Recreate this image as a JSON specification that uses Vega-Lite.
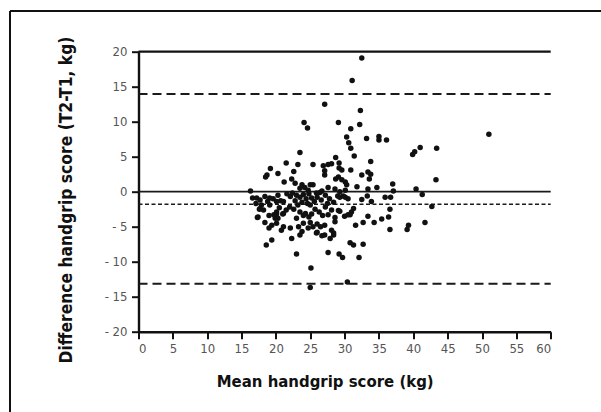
{
  "$schema": "https://vega.github.io/schema/vega-lite/v6.json",
  "width": 412.2,
  "height": 280,
  "autosize": {"type": "none"},
  "padding": {"left": 138.5, "top": 51.7, "right": 50.3, "bottom": 80.3},
  "background": "white",
  "config": {"view": {"stroke": null}, "font": "'Liberation Sans Narrow', 'DejaVu Sans Condensed', Roboto, sans-serif"},
  "datasets": {
    "pts": [
      {"x":32.5,"y":19.1},{"x":31.1,"y":15.9},{"x":27.1,"y":12.5},{"x":24.1,"y":9.9},{"x":24.6,"y":9.1},{"x":29.1,"y":9.9},{"x":32.3,"y":11.6},{"x":32.2,"y":9.6},{"x":30.9,"y":9.0},{"x":30.3,"y":7.8},{"x":30.6,"y":7.0},{"x":30.9,"y":6.2},{"x":31.4,"y":5.1},{"x":33.2,"y":7.6},{"x":35.0,"y":7.9},{"x":35.0,"y":7.4},{"x":36.1,"y":7.4},{"x":51.0,"y":8.2},{"x":39.9,"y":5.3},{"x":40.2,"y":5.7},{"x":41.0,"y":6.3},{"x":43.4,"y":6.2},{"x":23.5,"y":5.6},{"x":28.7,"y":4.9},{"x":25.4,"y":3.9},{"x":26.9,"y":3.7},{"x":27.6,"y":3.9},{"x":28.1,"y":4.0},{"x":29.2,"y":4.1},{"x":29.2,"y":3.4},{"x":29.6,"y":3.1},{"x":27.1,"y":3.0},{"x":27.1,"y":2.4},{"x":30.9,"y":3.1},{"x":33.8,"y":4.3},{"x":32.5,"y":2.4},{"x":33.4,"y":2.8},{"x":33.8,"y":2.5},{"x":33.6,"y":1.8},{"x":28.7,"y":1.8},{"x":29.6,"y":1.7},{"x":30.1,"y":1.4},{"x":31.8,"y":0.7},{"x":33.4,"y":0.4},{"x":34.7,"y":0.6},{"x":37.0,"y":1.1},{"x":37.1,"y":0.1},{"x":40.4,"y":0.4},{"x":43.3,"y":1.7},{"x":41.3,"y":-0.4},{"x":35.9,"y":-0.8},{"x":36.7,"y":-0.8},
      {"x":21.5,"y":4.1},{"x":23.2,"y":3.9},{"x":19.2,"y":3.3},{"x":18.7,"y":2.4},{"x":20.3,"y":2.6},{"x":22.6,"y":2.9},{"x":22.3,"y":1.8},{"x":21.2,"y":1.4},{"x":22.8,"y":1.2},{"x":23.8,"y":1.0},{"x":25.0,"y":1.0},{"x":23.5,"y":0.5},{"x":24.2,"y":0.6},{"x":24.7,"y":0.2},{"x":29.1,"y":2.1},{"x":30.3,"y":1.0},{"x":27.6,"y":0.6},{"x":28.6,"y":0.4},{"x":29.3,"y":0.0},{"x":30.1,"y":0.2},{"x":26.4,"y":-0.1},{"x":25.9,"y":-0.2},{"x":26.7,"y":0.1},{"x":16.3,"y":0.1},{"x":18.5,"y":2.1},{"x":25.4,"y":1.0},
      {"x":16.6,"y":-0.9},{"x":17.2,"y":-0.9},{"x":17.7,"y":-1.2},{"x":18.4,"y":-0.7},{"x":19.1,"y":-0.9},{"x":19.6,"y":-1.0},{"x":17.9,"y":-1.9},{"x":17.1,"y":-1.7},{"x":18.8,"y":-1.4},{"x":19.1,"y":-1.9},{"x":20.1,"y":-1.4},{"x":20.7,"y":-1.3},{"x":21.1,"y":-1.4},{"x":22.1,"y":-0.7},{"x":22.4,"y":-0.2},{"x":23.0,"y":-0.5},{"x":23.5,"y":-0.8},{"x":24.0,"y":-0.4},{"x":24.4,"y":-1.0},{"x":24.8,"y":-0.3},{"x":25.2,"y":-0.9},{"x":25.6,"y":-1.4},{"x":26.0,"y":-0.8},{"x":23.8,"y":-1.5},{"x":24.6,"y":-1.7},{"x":26.6,"y":-1.2},{"x":27.2,"y":-0.5},{"x":27.8,"y":-1.0},{"x":28.4,"y":-1.5},{"x":29.0,"y":-0.6},{"x":29.3,"y":-0.8},{"x":29.8,"y":-0.6},{"x":30.1,"y":-0.8},{"x":30.5,"y":-1.0},{"x":32.5,"y":-1.1},{"x":33.3,"y":-0.6},{"x":33.9,"y":-1.4},{"x":21.6,"y":-0.3},{"x":20.3,"y":-0.5},{"x":22.8,"y":-1.3},{"x":27.5,"y":-1.7},{"x":25.0,"y":-1.9},{"x":23.2,"y":-1.9},
      {"x":17.7,"y":-2.4},{"x":17.4,"y":-3.6},{"x":19.0,"y":-3.4},{"x":20.1,"y":-3.2},{"x":19.9,"y":-3.8},{"x":21.1,"y":-3.1},{"x":20.5,"y":-2.3},{"x":21.5,"y":-2.6},{"x":22.0,"y":-2.2},{"x":23.5,"y":-2.9},{"x":24.0,"y":-3.4},{"x":24.3,"y":-3.1},{"x":24.8,"y":-3.6},{"x":25.2,"y":-3.2},{"x":25.7,"y":-2.5},{"x":26.3,"y":-2.9},{"x":26.8,"y":-3.4},{"x":27.6,"y":-3.3},{"x":28.1,"y":-2.6},{"x":29.1,"y":-2.7},{"x":29.3,"y":-2.8},{"x":30.0,"y":-3.5},{"x":30.8,"y":-3.3},{"x":31.0,"y":-2.9},{"x":31.3,"y":-2.4},{"x":30.5,"y":-3.3},{"x":33.4,"y":-3.5},{"x":36.4,"y":-3.6},{"x":35.4,"y":-3.9},{"x":36.6,"y":-2.5},{"x":42.7,"y":-2.1},{"x":17.6,"y":-2.5},{"x":18.2,"y":-2.6},{"x":19.7,"y":-3.3},{"x":20.1,"y":-2.9},{"x":22.6,"y":-2.5},{"x":23.0,"y":-3.8},{"x":27.2,"y":-2.2},{"x":28.6,"y":-3.7},
      {"x":18.4,"y":-4.4},{"x":19.4,"y":-4.8},{"x":20.1,"y":-4.5},{"x":21.1,"y":-5.0},{"x":20.8,"y":-5.5},{"x":24.0,"y":-4.5},{"x":25.0,"y":-4.4},{"x":23.3,"y":-5.0},{"x":24.7,"y":-5.2},{"x":25.4,"y":-5.0},{"x":26.0,"y":-4.6},{"x":26.5,"y":-5.0},{"x":27.1,"y":-4.8},{"x":28.1,"y":-5.5},{"x":28.6,"y":-4.3},{"x":22.1,"y":-5.2},{"x":19.0,"y":-5.2},{"x":31.6,"y":-4.8},{"x":32.7,"y":-4.4},{"x":34.3,"y":-4.4},{"x":36.6,"y":-5.4},{"x":39.3,"y":-4.8},{"x":39.1,"y":-5.4},{"x":41.7,"y":-4.4},{"x":17.3,"y":-3.7},{"x":20.3,"y":-3.8},{"x":21.0,"y":-3.2},{"x":25.9,"y":-5.9},{"x":28.4,"y":-5.9},{"x":23.8,"y":-5.7},
      {"x":26.7,"y":-6.3},{"x":27.1,"y":-6.2},{"x":27.9,"y":-6.7},{"x":28.4,"y":-6.2},{"x":22.3,"y":-6.7},{"x":23.5,"y":-6.2},{"x":19.4,"y":-6.9},{"x":18.6,"y":-7.6},{"x":23.0,"y":-8.9},{"x":27.6,"y":-8.7},{"x":29.2,"y":-8.9},{"x":29.7,"y":-9.4},{"x":30.8,"y":-7.3},{"x":31.3,"y":-7.6},{"x":32.7,"y":-7.5},{"x":32.1,"y":-9.4},{"x":25.1,"y":-10.9},{"x":30.4,"y":-12.9},{"x":25.0,"y":-13.7},{"x":26.0,"y":-5.8}
    ],
    "top": [{"x": 0, "x2": 60, "y": 20}],
    "zero": [{"x": 0, "x2": 60, "y": 0}],
    "loa": [{"x": 0, "x2": 60, "y": 13.95}, {"x": 0, "x2": 60, "y": -13.15}],
    "bias": [{"x": 0, "x2": 60, "y": -1.8}],
    "frameH": [{"x": -18.705, "x2": 70, "y": 25.814}],
    "frameV": [{"x": -18.705, "y": -35, "y2": 25.814}]
  },
  "encoding": {
    "x": {"field": "x", "type": "quantitative", "scale": {"domain": [0, 60], "nice": false, "zero": false},
      "axis": {"title": "Mean handgrip score (kg)", "domain": true, "domainColor": "#111", "domainWidth": 2.4, "grid": false,
        "values": [0,5,10,15,20,25,30,35,40,45,50,55,60], "tickSize": 7, "tickWidth": 2, "tickColor": "#111",
        "labelFontSize": 13, "labelColor": "#555", "labelPadding": 4,
        "titleFontSize": 16.6, "titleFontWeight": "bold", "titleColor": "#111",
        "titleX": 186.2, "titleY": 50, "titleAlign": "center", "titleBaseline": "middle"}},
    "y": {"field": "y", "type": "quantitative", "scale": {"domain": [-20, 20], "nice": false, "zero": false},
      "axis": {"title": "Difference handgrip score (T2-T1, kg)", "domain": true, "domainColor": "#111", "domainWidth": 2.4, "grid": false,
        "values": [-20,-15,-10,-5,0,5,10,15,20], "tickSize": 7, "tickWidth": 2, "tickColor": "#111",
        "labelFontSize": 13, "labelColor": "#555", "labelPadding": 4.5,
        "labelExpr": "datum.value < 0 ? '- ' + abs(datum.value) : datum.label",
        "titleFontSize": 17.3, "titleFontWeight": "bold", "titleColor": "#111",
        "titleAngle": -90, "titleX": -72, "titleY": 147.8, "titleAlign": "center", "titleBaseline": "middle"}}
  },
  "layer": [
    {
      "data": {"name": "loa"},
      "mark": {"type": "rule", "color": "#1a1a1a", "strokeWidth": 2, "strokeDash": [9, 5]},
      "encoding": {"x2": {"field": "x2"}}
    },
    {
      "data": {"name": "bias"},
      "mark": {"type": "rule", "color": "#1a1a1a", "strokeWidth": 1.6, "strokeDash": [4, 2.5]},
      "encoding": {"x2": {"field": "x2"}}
    },
    {
      "data": {"name": "zero"},
      "mark": {"type": "rule", "color": "#1a1a1a", "strokeWidth": 1.7},
      "encoding": {"x2": {"field": "x2"}}
    },
    {
      "data": {"name": "top"},
      "mark": {"type": "rule", "color": "#111", "strokeWidth": 2.2},
      "encoding": {"x2": {"field": "x2"}}
    },
    {
      "data": {"name": "frameH"},
      "mark": {"type": "rule", "color": "#111", "strokeWidth": 2},
      "encoding": {"x2": {"field": "x2"}}
    },
    {
      "data": {"name": "frameV"},
      "mark": {"type": "rule", "color": "#111", "strokeWidth": 2},
      "encoding": {"y2": {"field": "y2"}}
    },
    {
      "data": {"name": "pts"},
      "mark": {"type": "circle", "color": "#111", "opacity": 1, "size": 30},
      "encoding": {}
    }
  ]
}
